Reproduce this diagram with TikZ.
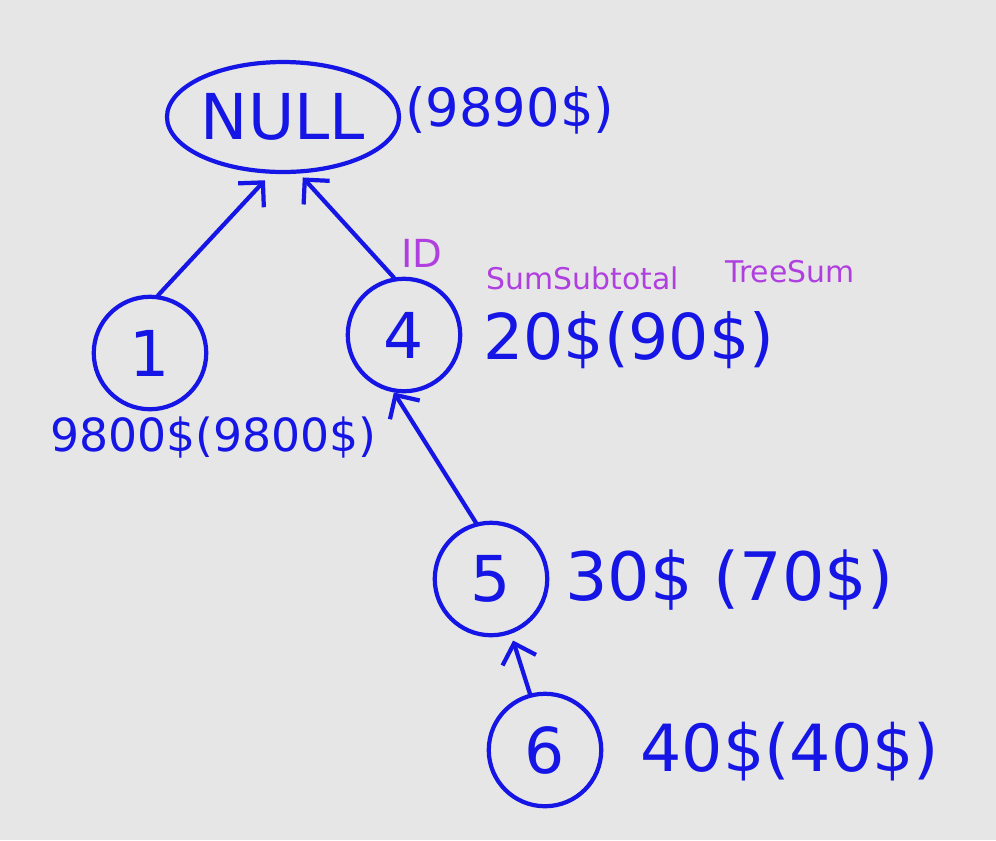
\documentclass[tikz,border=0pt]{standalone}
\usepackage{fontspec}
\setmainfont{DejaVu Sans}
\usetikzlibrary{arrows.meta,shapes.geometric}
\definecolor{pen}{HTML}{1515E6}
\definecolor{ink}{HTML}{B03FE0}
\definecolor{paper}{HTML}{E6E6E6}
\begin{document}
\begin{tikzpicture}[x=0.02cm,y=-0.02cm,
  penline/.style={draw=pen,line width=2.4pt},
  circ/.style={penline,circle,minimum size=2.25cm,inner sep=0pt,text=pen,font=\fontsize{36}{40}\selectfont},
  nullnode/.style={penline,ellipse,minimum width=4.48cm,minimum height=2.2cm,inner sep=0pt,text=pen,font=\fontsize{36}{40}\selectfont},
  lbl/.style={text=pen,anchor=west,inner sep=0pt},
  note/.style={text=ink,inner sep=0pt,font=\fontsize{17}{20}\selectfont},
  link/.style={penline,line cap=round,-{Straight Barb[length=10pt,width=20pt]}}]
\fill[paper] (0,0) rectangle (996,840);
\useasboundingbox (0,0) rectangle (996,840);
\node[nullnode] (null) at (283,117) {NULL};
\node[lbl,font=\fontsize{30}{34}\selectfont] (nullsum) at (405,110) {(9890\$)};
\node[circ] (n1) at (150,353) {1};
\node[lbl,font=\fontsize{26}{30}\selectfont] (s1) at (50,437) {9800\$(9800\$)};
\node[circ] (n4) at (404,335) {4};
\node[lbl,font=\fontsize{36}{40}\selectfont] (s4) at (483,340) {20\$(90\$)};
\node[circ] (n5) at (491,579) {5};
\node[lbl,font=\fontsize{38}{42}\selectfont] (s5) at (565,580) {30\$ (70\$)};
\node[circ] (n6) at (545,750) {6};
\node[lbl,font=\fontsize{37}{41}\selectfont] (s6) at (640,752) {40\$(40\$)};
\node[note,font=\fontsize{22}{24}\selectfont] (id) at (422,253) {ID};
\node[note] (ss) at (583,278) {SumSubtotal};
\node[note] (ts) at (790,272) {TreeSum};
\draw[link,shorten >=5pt] (n1.82) -- (null.258);
\draw[link,shorten >=3pt] (n4.100) -- (null.286);
\draw[link] (n5.105) -- (n4.260);
\draw[link,shorten >=4pt] (n6.105) -- (n5.290);
\end{tikzpicture}
\end{document}
